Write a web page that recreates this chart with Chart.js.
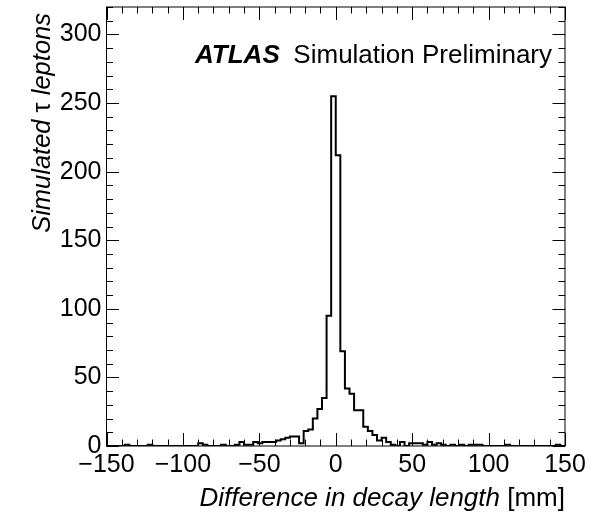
<!DOCTYPE html>
<html><head><meta charset="utf-8">
<script src="https://cdn.jsdelivr.net/npm/chart.js@4.4.1/dist/chart.umd.min.js"></script>
<style>html,body{margin:0;padding:0;background:#fff;}</style>
</head><body>
<canvas id="c" width="613" height="527"></canvas>
<script>
// ---- data ----
const xRange = [-150, 150];
const binWidth = 3;
const counts = [
  0,0,0,0,1,0,0,0,0,1,
  0,0,0,0,0,0,0,0,0,0,
  2,1,0,0,0,1,0,0,1,3,
  1,1,3,2,3,3,3,4,5,6,
  7,7,2,11,12,20,27,35,95,255,
  212,69,42,38,26,26,14,11,8,4,
  6,3,1,0,3,0,2,2,2,1,
  3,1,2,1,0,1,0,1,0,1,
  1,1,0,0,0,0,0,1,0,0,
  0,0,0,0,0,0,0,0,1,0
];
const xTickValues = [-150, -100, -50, 0, 50, 100, 150];
const yTickValues = [0, 50, 100, 150, 200, 250, 300];
const yMax = 320;
const minorStep = 10;
const yTitleParts = [['Simulated ', 'italic'], ['τ', 'normal'], [' leptons', 'italic']];
const xTitleParts = [['Difference in decay length', 'italic'], [' [mm]', 'normal']];
const atlasLabel = 'ATLAS';
const atlasSub = 'Simulation Preliminary';

const FONT = '"Liberation Sans", Arial, Helvetica, sans-serif';

const points = counts.map((c, i) => ({ x: xRange[0] + i * binWidth, y: c }));
points.push({ x: xRange[1], y: 0 });

const fmt = v => (v < 0 ? '\u2212' + Math.abs(v) : String(v));

const decor = {
  id: 'decor',
  afterDatasetsDraw(chart) {
    const { ctx, chartArea: a, scales: { x, y } } = chart;
    ctx.save();
    ctx.strokeStyle = '#000';
    ctx.lineWidth = 1;
    ctx.strokeRect(a.left, a.top, a.right - a.left, a.bottom - a.top);
    ctx.beginPath();
    for (let v = xRange[0]; v <= xRange[1]; v += minorStep) {
      const px = Math.round(x.getPixelForValue(v)) + 0.5;
      const L = xTickValues.includes(v) ? 13 : 6.5;
      ctx.moveTo(px, a.bottom); ctx.lineTo(px, a.bottom - L);
      ctx.moveTo(px, a.top); ctx.lineTo(px, a.top + L);
    }
    for (let v = 0; v <= yMax; v += minorStep) {
      const py = Math.round(y.getPixelForValue(v)) + 0.5;
      const L = yTickValues.includes(v) ? 12.5 : 6.5;
      ctx.moveTo(a.left, py); ctx.lineTo(a.left + L, py);
      ctx.moveTo(a.right, py); ctx.lineTo(a.right - L, py);
    }
    ctx.stroke();
    ctx.restore();
  },
  afterDraw(chart) {
    const { ctx, chartArea: a } = chart;
    ctx.save();
    ctx.fillStyle = '#000';
    ctx.textBaseline = 'alphabetic';
    ctx.textAlign = 'left';
    // ATLAS label
    ctx.font = 'italic bold 26px ' + FONT;
    ctx.fillText(atlasLabel, 195, 63);
    ctx.font = '26px ' + FONT;
    const ws = ctx.measureText(atlasSub).width;
    ctx.fillText(atlasSub, 552 - ws, 63);
    // x title, right aligned at chart right
    let xr = a.right;
    for (let i = xTitleParts.length - 1; i >= 0; i--) {
      const [t, st] = xTitleParts[i];
      ctx.font = (st === 'italic' ? 'italic ' : '') + '26px ' + FONT;
      const w = ctx.measureText(t).width;
      ctx.fillText(t, xr - w, 506);
      xr -= w;
    }
    // y title, rotated, ending at top
    ctx.translate(50, 13);
    ctx.rotate(-Math.PI / 2);
    let yr = 0;
    for (let i = yTitleParts.length - 1; i >= 0; i--) {
      const [t, st] = yTitleParts[i];
      ctx.font = (st === 'italic' ? 'italic ' : '') + '25.5px ' + FONT;
      const w = ctx.measureText(t).width;
      ctx.fillText(t, yr - w, 0);
      yr -= w;
    }
    ctx.restore();
  }
};

new Chart(document.getElementById('c'), {
  type: 'line',
  data: {
    datasets: [{
      data: points,
      stepped: 'before',
      borderColor: '#000',
      borderWidth: 2,
      pointRadius: 0,
      fill: false,
      tension: 0
    }]
  },
  options: {
    responsive: false,
    animation: false,
    devicePixelRatio: 1,
    layout: { padding: { left: 0, right: 48, top: 7, bottom: 0 } },
    plugins: { legend: { display: false }, tooltip: { enabled: false } },
    scales: {
      x: {
        type: 'linear', min: xRange[0], max: xRange[1],
        afterBuildTicks: s => { s.ticks = xTickValues.map(v => ({ value: v })); },
        afterFit: s => { s.height = 81; },
        grid: { display: false, drawTicks: false },
        border: { display: false },
        ticks: { autoSkip: false, maxRotation: 0, minRotation: 0, padding: 4, color: '#000',
          font: { family: FONT, size: 25 }, callback: v => fmt(v) }
      },
      y: {
        type: 'linear', min: 0, max: yMax,
        afterBuildTicks: s => { s.ticks = yTickValues.map(v => ({ value: v })); },
        afterFit: s => { s.width = 106.5; s.paddingTop = 0; s.paddingBottom = 0; },
        grid: { display: false, drawTicks: false },
        border: { display: false },
        ticks: { autoSkip: false, padding: 5, color: '#000',
          font: { family: FONT, size: 25 }, callback: v => fmt(v) }
      }
    }
  },
  plugins: [decor]
});
</script>
</body></html>
